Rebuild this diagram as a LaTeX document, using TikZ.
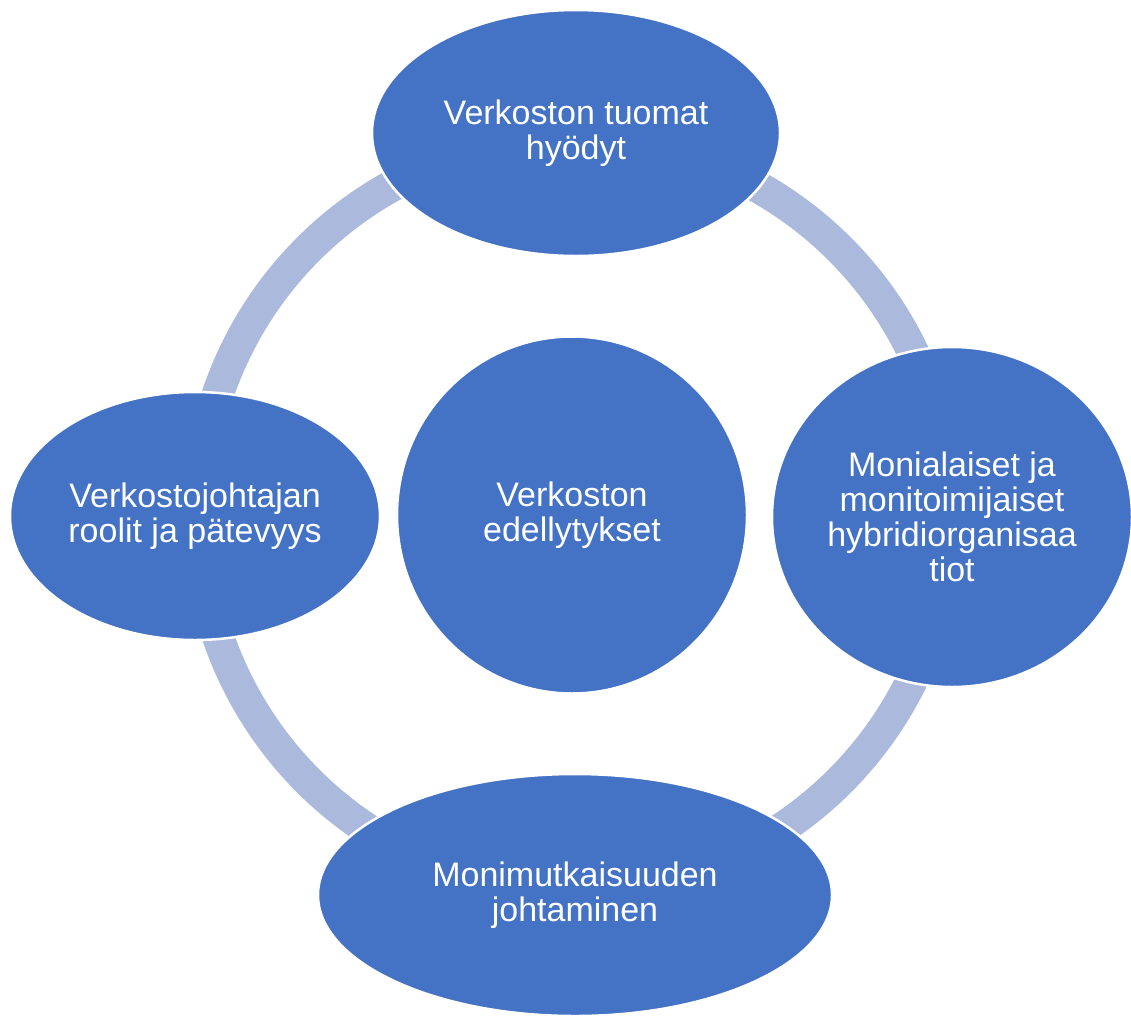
\documentclass[tikz,border=0pt]{standalone}
\usepackage{fontspec}
\setmainfont{Liberation Sans}
\usetikzlibrary{shapes.geometric}
\definecolor{nodeblue}{HTML}{4472C4}
\definecolor{ringblue}{HTML}{AAB9DC}
\begin{document}
\begin{tikzpicture}[x=1pt,y=-1pt,
  blob/.style={ellipse, fill=nodeblue, draw=white, line width=2.5pt, inner sep=0pt,
    text=white, align=center, font=\fontsize{34}{35}\selectfont},
  ringline/.style={draw=ringblue, line width=32pt}]
\useasboundingbox (0,0) rectangle (1131,1017);
\clip (0,0) rectangle (1131,1017);
\coordinate (c) at (574,515);
\path[ringline] (c) circle[radius=376pt];
\node[blob, minimum width=408pt, minimum height=246pt] (top) at (576,133) {Verkoston tuomat\\hyödyt};
\node[blob, minimum width=360pt, minimum height=340pt] (right) at (952,517) {Monialaiset ja\\monitoimijaiset\\hybridiorganisaa\\tiot};
\node[blob, minimum width=514pt, minimum height=242pt] (bottom) at (575,895) {Monimutkaisuuden\\johtaminen};
\node[blob, minimum width=370pt, minimum height=248pt] (left) at (195,516) {Verkostojohtajan\\roolit ja pätevyys};
\node[blob, minimum width=350pt, minimum height=357pt] (center) at (572,515) {Verkoston\\edellytykset};
\end{tikzpicture}
\end{document}
